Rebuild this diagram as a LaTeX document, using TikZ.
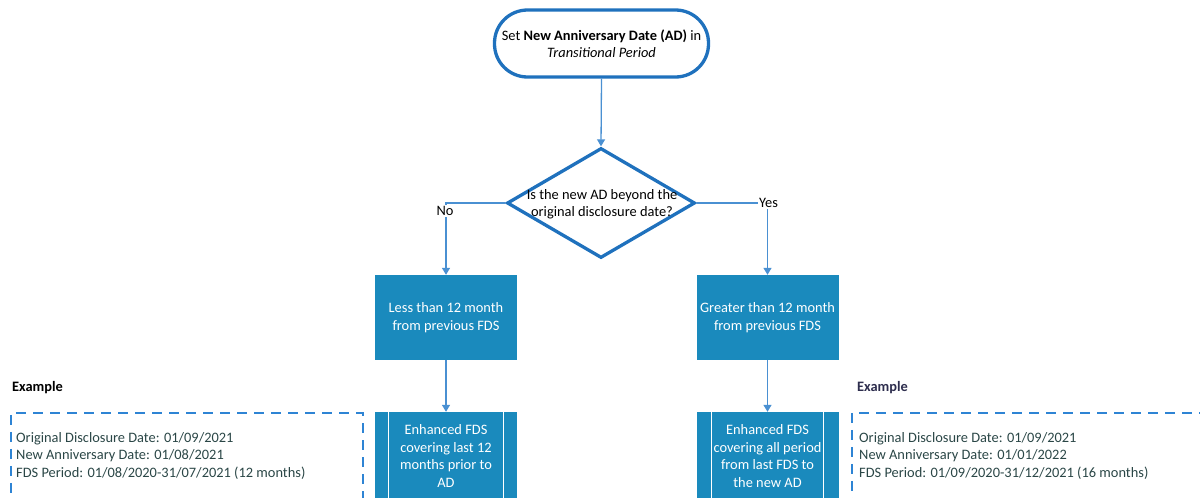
\documentclass[tikz,border=0pt]{standalone}
\usepackage{fontspec}
\setmainfont{Carlito}
\usetikzlibrary{arrows.meta,shapes.geometric,calc}
\definecolor{termblue}{HTML}{1F71BD}
\definecolor{connblue}{HTML}{4A90D2}
\definecolor{boxblue}{HTML}{1A8ABD}
\definecolor{dashblue}{HTML}{2E84D4}
\definecolor{extext}{HTML}{2A4646}
\definecolor{exhead}{HTML}{2E2E4E}
\begin{document}
\begin{tikzpicture}[x=1pt,y=-1pt,
  every node/.style={font=\fontsize{14.4}{17.5}\selectfont},
  term/.style={draw=termblue,line width=3.3pt,rounded corners=33pt,minimum width=214pt,minimum height=67pt,align=center,inner sep=0pt},
  dia/.style={draw=termblue,line width=3.3pt,diamond,minimum width=188pt,minimum height=110pt,inner sep=0pt},
  conn/.style={draw=connblue,line width=1.3pt},
  arr/.style={conn,-{Triangle[width=8pt,length=7pt]},color=connblue},
  procbox/.style={fill=boxblue,draw=none,minimum width=142pt,minimum height=85pt,text=white,align=center,inner sep=0pt},
  predef/.style={fill=boxblue,draw=none,minimum width=142pt,minimum height=88pt,text=white,align=center,inner sep=0pt},
  inner/.style={draw=white,line width=1pt},
  exbox/.style={draw=dashblue,line width=1.8pt,dash pattern=on 10pt off 7pt},
  lbl/.style={fill=white,inner sep=1.5pt},
  extxt/.style={anchor=west,align=left,text=extext,inner sep=0pt}
]
\useasboundingbox (0,0) rectangle (1200,498);
\clip (0,0) rectangle (1200,498);

\node[term] (start) at (601.5,43.5) {Set \textbf{New Anniversary Date (AD)} in\\\textit{Transitional Period}};

\node[dia] (q) at (601,203) {};
\node[align=center,inner sep=0pt] (qtext) at (602,204) {Is the new AD beyond the\\original disclosure date?};

\node[procbox] (less) at (446,317.5) {Less than 12 month\\from previous FDS};
\node[procbox] (greater) at (767.5,317.5) {Greater than 12 month\\from previous FDS};

\node[predef] (enhl) at (446,456) {Enhanced FDS\\covering last 12\\months prior to\\AD};
\node[predef] (enhr) at (767.5,456) {Enhanced FDS\\covering all period\\from last FDS to\\the new AD};
\draw[inner] ($(enhl.north west)+(14,0)$) -- ($(enhl.south west)+(14,0)$);
\draw[inner] ($(enhl.north east)+(-14,0)$) -- ($(enhl.south east)+(-14,0)$);
\draw[inner] ($(enhr.north west)+(15,0)$) -- ($(enhr.south west)+(15,0)$);
\draw[inner] ($(enhr.north east)+(-15,0)$) -- ($(enhr.south east)+(-15,0)$);

\coordinate (nobend) at (less.north |- q.west);
\coordinate (yesbend) at (greater.north |- q.east);
\draw[arr] (start.south) -- (q.north);
\draw[arr] (q.west) -- (nobend) -- (less.north);
\draw[arr] (q.east) -- (yesbend) -- (greater.north);
\node[lbl] (nolbl) at ($(nobend)+(-1,8)$) {No};
\node[lbl] (yeslbl) at ($(yesbend)+(1,0)$) {Yes};
\draw[arr] (less.south) -- (enhl.north);
\draw[arr] (greater.south) -- (enhr.north);

% examples
\node[anchor=west,inner sep=0pt,font=\fontsize{14.4}{17.5}\selectfont\bfseries] (exl) at (12,388) {Example};
\node[anchor=west,inner sep=0pt,text=exhead,font=\fontsize{14.4}{17.5}\selectfont\bfseries] (exr) at (857,388) {Example};
\node[exbox,minimum width=352pt,minimum height=110pt,anchor=north west,inner sep=0pt] (boxl) at (10,412) {};
\node[exbox,minimum width=370pt,minimum height=110pt,anchor=north west,inner sep=0pt] (boxr) at (851,412) {};
\node[extxt] (txl) at (16,455.5) {Original Disclosure Date: 01/09/2021\\New Anniversary Date: 01/08/2021\\FDS Period: 01/08/2020-31/07/2021 (12 months)};
\node[extxt] (txr) at (859,455.5) {Original Disclosure Date: 01/09/2021\\New Anniversary Date: 01/01/2022\\FDS Period: 01/09/2020-31/12/2021 (16 months)};
\end{tikzpicture}
\end{document}
